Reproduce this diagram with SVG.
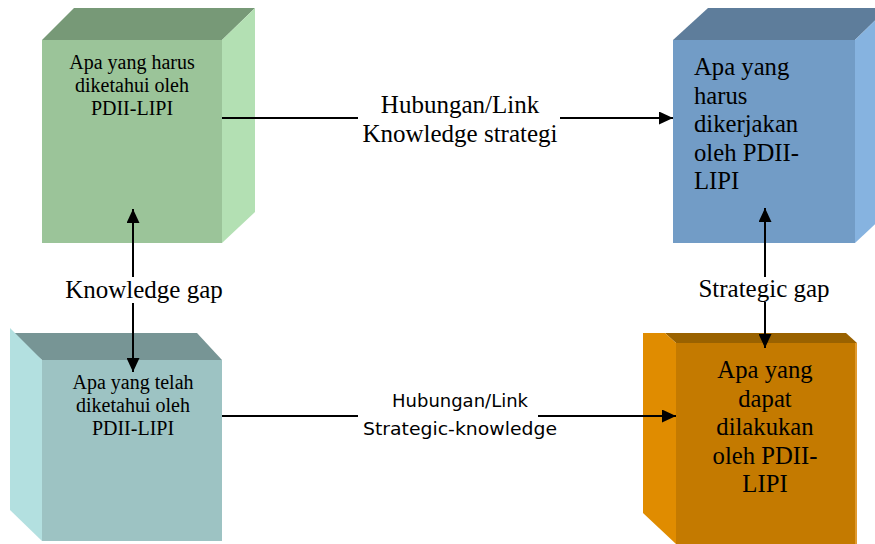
<svg xmlns="http://www.w3.org/2000/svg" width="875" height="544" viewBox="0 0 875 544">
<defs>
<style>
.ln{stroke:#000;stroke-width:2;fill:none}
text{fill:#000}
</style>
<marker id="ah" viewBox="0 0 14 13" refX="14" refY="6.5" markerWidth="14" markerHeight="13" markerUnits="userSpaceOnUse" orient="auto">
<path d="M0,0 L14,6.5 L0,13 Z" fill="#000"/>
</marker>
</defs>
<rect width="875" height="544" fill="#fff"/>

<g id="node-harus-diketahui">
<polygon points="42,40 74,8 255,8 222,40" fill="#779977"/>
<polygon points="222,40 255,8 255,212 222,243" fill="#B3E0B3"/>
<rect x="42" y="40" width="180" height="203" fill="#9BC499"/>
<text font-family="Liberation Serif" font-size="20" text-anchor="middle"><tspan x="132" y="69">Apa yang harus</tspan><tspan x="132" y="92">diketahui oleh</tspan><tspan x="132" y="115">PDII-LIPI</tspan></text>
</g>

<g id="node-harus-dikerjakan">
<polygon points="673,40 708,8 888,8 855,40" fill="#5E7D9B"/>
<polygon points="855,40 888,8 888,212 855,243" fill="#86B3E0"/>
<rect x="673" y="40" width="182" height="203" fill="#729CC6"/>
<text font-family="Liberation Serif" font-size="24.7"><tspan x="694" y="75">Apa yang</tspan><tspan x="694" y="103.5">harus</tspan><tspan x="694" y="132">dikerjakan</tspan><tspan x="694" y="160.5">oleh PDII-</tspan><tspan x="694" y="189">LIPI</tspan></text>
</g>

<g id="node-telah-diketahui">
<polygon points="10,333 197,333 222,360 42,360" fill="#779595"/>
<polygon points="10,328 42,360 42,541 10,510" fill="#B3E0E0"/>
<rect x="42" y="360" width="180" height="181" fill="#9DC3C3"/>
<text font-family="Liberation Serif" font-size="20" text-anchor="middle"><tspan x="133" y="389">Apa yang telah</tspan><tspan x="133" y="412">diketahui oleh</tspan><tspan x="133" y="434.5">PDII-LIPI</tspan></text>
</g>

<g id="node-dapat-dilakukan">
<polygon points="665,333 846,333 857,343 676,343" fill="#9A6200"/>
<polygon points="643,333 665,333 676,343 676,544 643,513" fill="#E08C00"/>
<rect x="676" y="343" width="181" height="201" fill="#C47A00"/>
<rect x="855" y="343" width="2" height="201" fill="#E09A30"/>
<text font-family="Liberation Serif" font-size="24.7" text-anchor="middle"><tspan x="765" y="378">Apa yang</tspan><tspan x="765" y="406.5">dapat</tspan><tspan x="765" y="435">dilakukan</tspan><tspan x="765" y="463.5">oleh PDII-</tspan><tspan x="765" y="492">LIPI</tspan></text>
</g>

<g id="connectors">
<path class="ln" d="M222,118 H358"/>
<path class="ln" d="M560,118 H673" marker-end="url(#ah)"/>
<path class="ln" d="M222,416 H358"/>
<path class="ln" d="M538,416 H676" marker-end="url(#ah)"/>
<path class="ln" d="M133,277 V209" marker-end="url(#ah)"/>
<path class="ln" d="M133,303 V372" marker-end="url(#ah)"/>
<path class="ln" d="M765,277 V208" marker-end="url(#ah)"/>
<path class="ln" d="M765,302 V348" marker-end="url(#ah)"/>
<text font-family="Liberation Serif" font-size="25" text-anchor="middle"><tspan x="460" y="113">Hubungan/Link</tspan><tspan x="460" y="142">Knowledge strategi</tspan></text>
<text font-family="Comic Sans MS, DejaVu Sans, sans-serif" font-size="17" text-anchor="middle"><tspan x="460" y="407" textLength="136" lengthAdjust="spacingAndGlyphs">Hubungan/Link</tspan><tspan x="460" y="435" textLength="194" lengthAdjust="spacingAndGlyphs">Strategic-knowledge</tspan></text>
<text font-family="Liberation Serif" font-size="25" x="144" y="298" text-anchor="middle">Knowledge gap</text>
<text font-family="Liberation Serif" font-size="25" x="764" y="297" text-anchor="middle">Strategic gap</text>
</g>
</svg>
